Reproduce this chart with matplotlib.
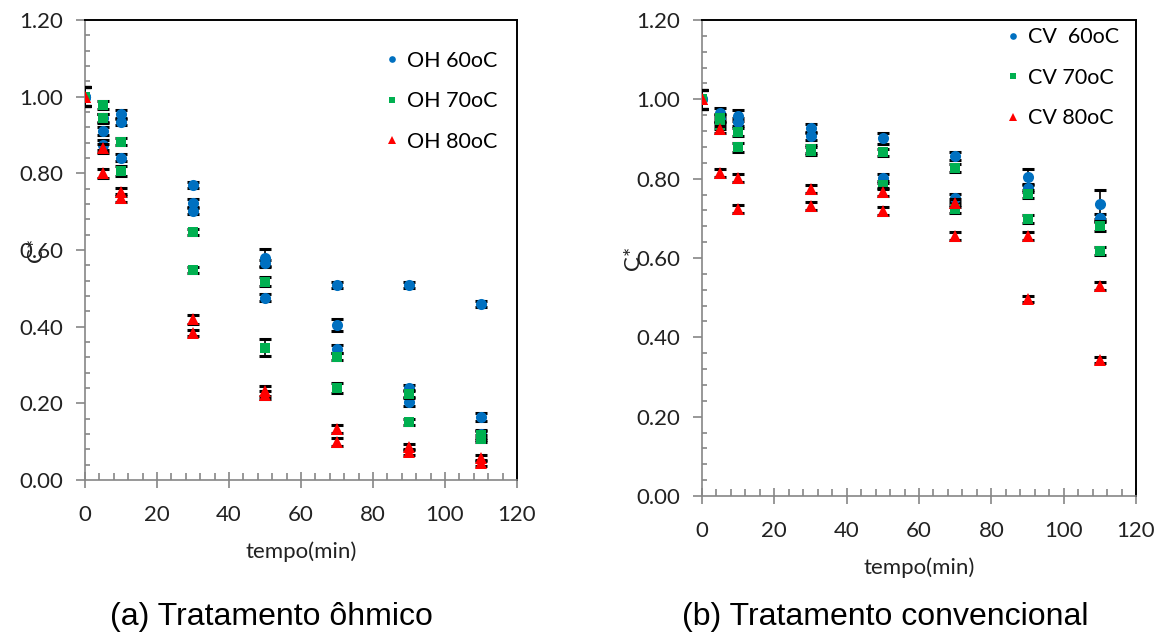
import numpy as np
import matplotlib.pyplot as plt
from matplotlib.ticker import MultipleLocator, FormatStrFormatter

# tempos (min)
t = [0, 5, 10, 30, 50, 70, 90, 110]

# (a) tratamento ohmico - replicatas
oh60_a = [1.00, 0.944, 0.954, 0.770, 0.580, 0.509, 0.509, 0.459]
oh60_b = [1.00, 0.911, 0.935, 0.722, 0.565, 0.404, 0.240, 0.165]
oh60_c = [1.00, 0.874, 0.841, 0.703, 0.476, 0.342, 0.204, 0.120]
oh60_ea = [0.024, 0.010, 0.012, 0.008, 0.022, 0.008, 0.008, 0.008]
oh60_eb = [0.024, 0.010, 0.010, 0.012, 0.010, 0.016, 0.008, 0.010]
oh60_ec = [0.024, 0.012, 0.010, 0.010, 0.008, 0.010, 0.012, 0.010]

oh70_a = [1.00, 0.978, 0.883, 0.648, 0.517, 0.322, 0.224, 0.117]
oh70_b = [1.00, 0.944, 0.806, 0.548, 0.345, 0.240, 0.152, 0.108]
oh70_ea = [0.024, 0.010, 0.010, 0.008, 0.012, 0.010, 0.010, 0.012]
oh70_eb = [0.024, 0.012, 0.012, 0.008, 0.022, 0.012, 0.008, 0.010]

oh80_a = [1.00, 0.865, 0.752, 0.419, 0.232, 0.133, 0.087, 0.057]
oh80_b = [1.00, 0.800, 0.735, 0.383, 0.222, 0.100, 0.074, 0.044]
oh80_ea = [0.024, 0.012, 0.010, 0.012, 0.014, 0.010, 0.008, 0.008]
oh80_eb = [0.024, 0.012, 0.010, 0.008, 0.010, 0.010, 0.008, 0.008]

# (b) tratamento convencional
cv60_a = [1.00, 0.966, 0.959, 0.927, 0.902, 0.857, 0.805, 0.735]
cv60_b = [1.00, 0.950, 0.944, 0.908, 0.801, 0.752, 0.776, 0.700]
cv60_ea = [0.024, 0.012, 0.014, 0.012, 0.014, 0.010, 0.020, 0.036]
cv60_eb = [0.024, 0.010, 0.010, 0.010, 0.012, 0.010, 0.010, 0.010]

cv70_a = [1.00, 0.953, 0.918, 0.870, 0.866, 0.826, 0.761, 0.681]
cv70_b = [1.00, 0.935, 0.879, 0.875, 0.784, 0.723, 0.698, 0.618]
cv70_ea = [0.024, 0.010, 0.010, 0.010, 0.010, 0.010, 0.010, 0.012]
cv70_eb = [0.024, 0.010, 0.012, 0.010, 0.010, 0.010, 0.010, 0.010]

cv80_a = [1.00, 0.924, 0.801, 0.773, 0.767, 0.739, 0.655, 0.529]
cv80_b = [1.00, 0.815, 0.723, 0.731, 0.718, 0.655, 0.497, 0.343]
cv80_ea = [0.024, 0.010, 0.010, 0.010, 0.010, 0.010, 0.010, 0.010]
cv80_eb = [0.024, 0.010, 0.010, 0.010, 0.010, 0.010, 0.008, 0.008]

BLUE = '#0070C0'
GREEN = '#00B050'
RED = '#FF0000'
XLFONT = 'Lato'

def series(ax, y, e, color, marker, ms, z):
    ax.errorbar(t, y, yerr=e, fmt='none', ecolor='black', elinewidth=1.2,
                capsize=4.5, capthick=2.2, zorder=z)
    h, = ax.plot(t, y, linestyle='none', marker=marker, color=color,
                 markersize=ms, markeredgewidth=0, zorder=z + 0.5)
    return h

def style(ax):
    ax.set_xlim(0, 120)
    ax.set_ylim(0, 1.2)
    ax.xaxis.set_major_locator(MultipleLocator(20))
    ax.xaxis.set_minor_locator(MultipleLocator(4))
    ax.yaxis.set_major_locator(MultipleLocator(0.2))
    ax.yaxis.set_minor_locator(MultipleLocator(0.04))
    ax.yaxis.set_major_formatter(FormatStrFormatter('%.2f'))
    for s in ['left', 'bottom']:
        ax.spines[s].set_color('#868686')
        ax.spines[s].set_linewidth(1.2)
    for s in ['top', 'right']:
        ax.spines[s].set_color('black')
        ax.spines[s].set_linewidth(1.4)
    ax.tick_params(axis='both', which='both', color='#868686', width=1.2,
                   labelsize=16, labelcolor='#222222', top=False, right=False)
    ax.tick_params(axis='y', which='major', direction='out', length=6.5, pad=9)
    ax.tick_params(axis='y', which='minor', direction='in', length=3.5)
    ax.tick_params(axis='x', which='major', direction='inout', length=12, pad=12)
    ax.tick_params(axis='x', which='minor', direction='in', length=5)
    for lab in ax.get_xticklabels() + ax.get_yticklabels():
        lab.set_fontfamily(XLFONT)

fig = plt.figure(figsize=(11.58, 6.38), dpi=100)
ax1 = fig.add_axes([85/1158, 1 - 480/638, 432/1158, 460/638])
ax2 = fig.add_axes([702/1158, 1 - 496/638, 434/1158, 476/638])

h1 = series(ax1, oh60_a, oh60_ea, BLUE, 'o', 8, 3)
series(ax1, oh60_b, oh60_eb, BLUE, 'o', 8, 3)
series(ax1, oh60_c, oh60_ec, BLUE, 'o', 8, 3)
h2 = series(ax1, oh70_a, oh70_ea, GREEN, 's', 7, 4)
series(ax1, oh70_b, oh70_eb, GREEN, 's', 7, 4)
h3 = series(ax1, oh80_a, oh80_ea, RED, '^', 8.5, 5)
series(ax1, oh80_b, oh80_eb, RED, '^', 8.5, 5)

g1 = series(ax2, cv60_a, cv60_ea, BLUE, 'o', 8, 3)
series(ax2, cv60_b, cv60_eb, BLUE, 'o', 8, 3)
g2 = series(ax2, cv70_a, cv70_ea, GREEN, 's', 7, 4)
series(ax2, cv70_b, cv70_eb, GREEN, 's', 7, 4)
g3 = series(ax2, cv80_a, cv80_ea, RED, '^', 8.5, 5)
series(ax2, cv80_b, cv80_eb, RED, '^', 8.5, 5)

for ax in (ax1, ax2):
    style(ax)

ax1.set_xlabel('tempo(min)', fontsize=16, family=XLFONT, color='#222222', labelpad=12)
ax2.set_xlabel('tempo(min)', fontsize=16, family=XLFONT, color='#222222', labelpad=12)
ax1.set_ylabel('C*', fontsize=16, family=XLFONT, color='#222222')
ax2.set_ylabel('C*', fontsize=16, family=XLFONT, color='#222222')
ax1.yaxis.set_label_coords(-0.09, 0.5)
ax2.yaxis.set_label_coords(-0.135, 0.5)

leg_kw = dict(frameon=False, labelspacing=0.95, handletextpad=0.3,
              handlelength=0.8, markerscale=0.6, prop={'family': XLFONT, 'size': 15.5})
ax1.legend([h1, h2, h3], ['OH 60oC', 'OH 70oC', 'OH 80oC'], loc='upper right',
           bbox_to_anchor=(1.0, 0.975), **leg_kw)
ax2.legend([g1, g2, g3], ['CV  60oC', 'CV 70oC', 'CV 80oC'], loc='upper right',
           bbox_to_anchor=(1.005, 1.025), **leg_kw)

fig.text(271/1158, 1 - 617/638, '(a) Tratamento ôhmico', ha='center', va='center',
         fontsize=23, family='Liberation Sans')
fig.text(885/1158, 1 - 617/638, '(b) Tratamento convencional', ha='center', va='center',
         fontsize=23, family='Liberation Sans')

fig.savefig('out.png', dpi=100)
